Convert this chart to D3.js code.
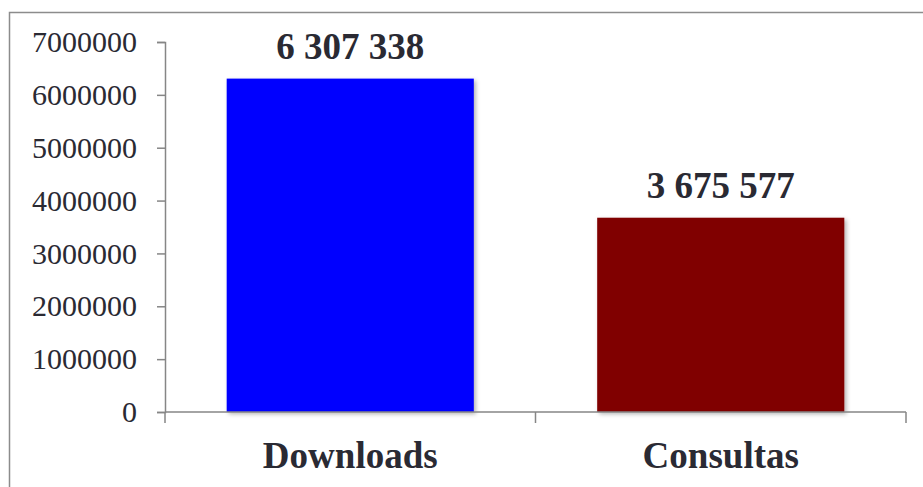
<!DOCTYPE html>
<html>
<head>
<meta charset="utf-8">
<script src="https://cdn.jsdelivr.net/npm/d3@7"></script>
<style>
  body { margin: 0; background: #fff; }
  svg { display: block; }
  text { font-family: "Liberation Serif", "Times New Roman", Times, serif; }
</style>
</head>
<body>
<div id="chart"></div>
<script>
// Chart data.
var categories = ["Downloads", "Consultas"];
var values = [6307338, 3675577];
var valueLabels = ["6 307 338", "3 675 577"];
var barColors = ["#0000ff", "#800000"];
var yTicks = [0, 1000000, 2000000, 3000000, 4000000, 5000000, 6000000, 7000000];

var width = 923, height = 487,
  fontFamily = '"Liberation Serif", "Times New Roman", Times, serif',
  axisColor = "#868686",
  textColor = "#2a2a33";

var svg = d3.select("#chart").append("svg")
  .attr("width", width)
  .attr("height", height);

// Soft shadow behind the bars.
var defs = svg.append("defs");
var filter = defs.append("filter")
  .attr("id", "shadow")
  .attr("x", "-10%").attr("y", "-10%")
  .attr("width", "130%").attr("height", "130%");
filter.append("feDropShadow")
  .attr("dx", 2).attr("dy", 2)
  .attr("stdDeviation", 2)
  .attr("flood-color", "#000")
  .attr("flood-opacity", 0.3);

// Outer frame of the chart area.
svg.append("rect")
  .attr("x", 9.5).attr("y", 12.5)
  .attr("width", 940).attr("height", 500)
  .attr("fill", "none")
  .attr("stroke", "#8c8c8c")
  .attr("stroke-width", 1.5);

var plotLeft = 165, plotRight = 906, plotTop = 42, plotBottom = 412;

var y = d3.scaleLinear()
  .domain([0, 7000000])
  .range([plotBottom, plotTop]);

var x = d3.scaleBand()
  .domain(categories)
  .range([plotLeft, plotRight])
  .padding(0);

var barFrac = 0.667;

// Bars.
svg.selectAll(".bar")
  .data(values)
  .enter().append("rect")
    .attr("class", "bar")
    .attr("x", function(d, i) { return x(categories[i]) + x.bandwidth() * (1 - barFrac) / 2; })
    .attr("y", function(d) { return y(d); })
    .attr("width", x.bandwidth() * barFrac)
    .attr("height", function(d) { return y(0) - y(d); })
    .attr("fill", function(d, i) { return barColors[i]; })
    .attr("filter", "url(#shadow)");

// Y axis.
var yAxis = svg.append("g")
  .attr("transform", "translate(" + plotLeft + ",0)")
  .call(d3.axisLeft(y).tickValues(yTicks).tickFormat(d3.format("d")).tickSize(8).tickPadding(20))
  .attr("font-family", fontFamily)
  .attr("font-size", 30);
yAxis.select(".domain").attr("stroke", axisColor).attr("stroke-width", 1.5);
yAxis.selectAll(".tick line").attr("stroke", axisColor).attr("stroke-width", 1.5);
yAxis.selectAll(".tick text")
  .attr("fill", textColor)
  .style("font-family", fontFamily)
  .style("font-size", "30px");

// X axis line with category separators.
var xAxis = svg.append("g")
  .attr("transform", "translate(0," + plotBottom + ")");
xAxis.append("line")
  .attr("x1", plotLeft).attr("x2", plotRight)
  .attr("stroke", axisColor).attr("stroke-width", 1.5);
var seps = [plotLeft].concat(categories.map(function(c) { return x(c) + x.bandwidth(); }));
xAxis.selectAll(".sep")
  .data(seps)
  .enter().append("line")
    .attr("x1", function(d) { return d; })
    .attr("x2", function(d) { return d; })
    .attr("y1", 0).attr("y2", 11)
    .attr("stroke", axisColor).attr("stroke-width", 1.5);
xAxis.selectAll(".cat")
  .data(categories)
  .enter().append("text")
    .text(function(d) { return d; })
    .attr("x", function(d) { return x(d) + x.bandwidth() / 2; })
    .attr("y", 56)
    .attr("text-anchor", "middle")
    .attr("fill", textColor)
    .style("font-family", fontFamily)
    .style("font-weight", "bold")
    .style("font-size", "37px");

// Value labels above bars.
svg.selectAll(".val")
  .data(values)
  .enter().append("text")
    .text(function(d, i) { return valueLabels[i]; })
    .attr("x", function(d, i) { return x(categories[i]) + x.bandwidth() / 2; })
    .attr("y", function(d) { return y(d) - 20; })
    .attr("text-anchor", "middle")
    .attr("fill", textColor)
    .style("font-family", fontFamily)
    .style("font-weight", "bold")
    .style("font-size", "37px");
</script>
</body>
</html>
